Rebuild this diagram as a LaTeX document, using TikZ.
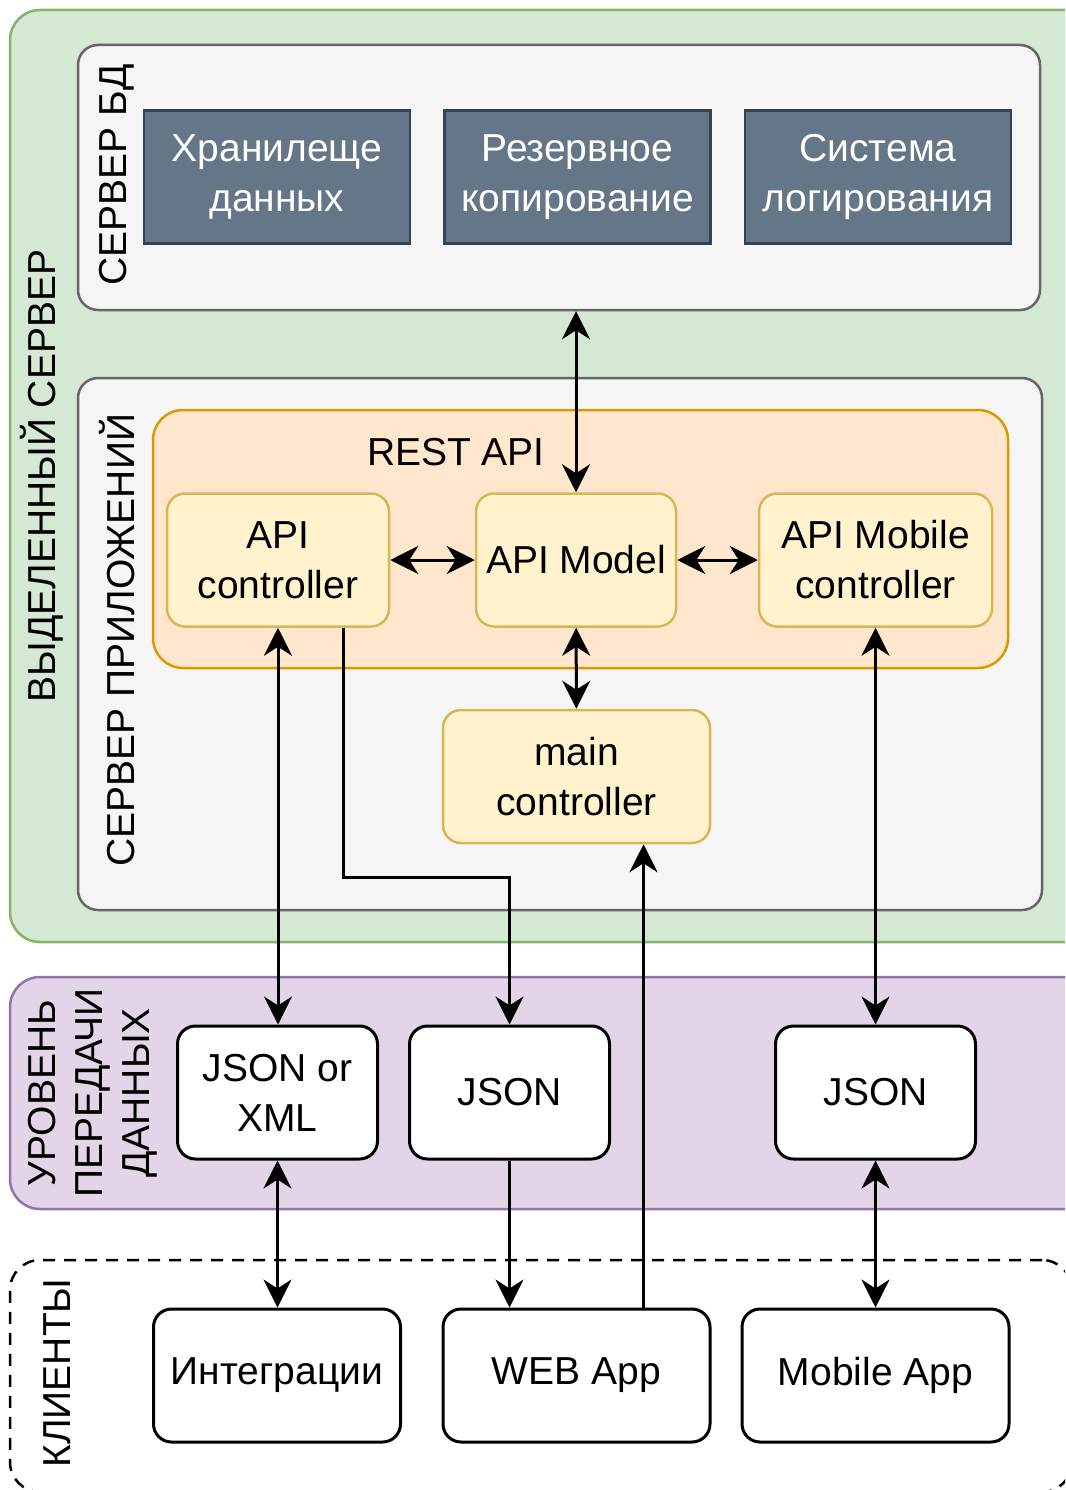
\documentclass[tikz,border=0pt]{standalone}
\usepackage{fontspec}
\setmainfont{Liberation Sans}
\usepackage{xcolor}
\usepackage{tikz}
\usetikzlibrary{arrows.meta, positioning, calc}

\definecolor{srvfill}{HTML}{D5E8D4}
\definecolor{srvline}{HTML}{82B366}
\definecolor{panelfill}{HTML}{F5F5F5}
\definecolor{panelline}{HTML}{666666}
\definecolor{dbfill}{HTML}{647687}
\definecolor{dbline}{HTML}{314354}
\definecolor{restfill}{HTML}{FFE6CC}
\definecolor{restline}{HTML}{D79B00}
\definecolor{ctrlfill}{HTML}{FFF2CC}
\definecolor{ctrlline}{HTML}{D6B656}
\definecolor{netfill}{HTML}{E1D5E7}
\definecolor{netline}{HTML}{9673A6}

\begin{document}
\begin{tikzpicture}[
    x=1pt, y=-1pt,
    font=\fontsize{39}{50}\selectfont,
    node distance=32pt,
    zone/.style={rectangle, rounded corners=30pt, line width=2.5pt, inner sep=0pt},
    panel/.style={rectangle, draw=panelline, fill=panelfill, rounded corners=20pt, line width=2.5pt, inner sep=0pt},
    dbbox/.style={rectangle, draw=dbline, fill=dbfill, text=white, line width=2.5pt, align=center, minimum width=266pt, minimum height=133pt, inner sep=0pt},
    ctrl/.style={rectangle, draw=ctrlline, fill=ctrlfill, rounded corners=18pt, line width=2.5pt, align=center, minimum height=133pt, inner sep=0pt},
    fmt/.style={rectangle, draw, fill=white, rounded corners=18pt, line width=3pt, align=center, minimum width=200pt, minimum height=133pt, inner sep=0pt},
    client/.style={fmt, minimum width=267pt},
    vlabel/.style={rotate=90, align=center, inner sep=0pt},
    arrow/.style={-{Stealth[length=28pt, width=28pt, inset=9pt]}, line width=3pt},
    darrow/.style={{Stealth[length=28pt, width=28pt, inset=9pt]}-{Stealth[length=28pt, width=28pt, inset=9pt]}, line width=3pt}
  ]

    \clip (0,0) rectangle (1065,1490);

    % зоны
    \node[zone, draw=srvline, fill=srvfill, minimum width=1085pt, minimum height=932pt] (srv) at (552.5,476) {};
    \node[panel, minimum width=962pt, minimum height=265pt] (dbsrv) at (559,177.5) {};
    \node[panel, minimum width=964pt, minimum height=532pt] (appsrv) at (560,644) {};
    \node[zone, draw=restline, fill=restfill, minimum width=855pt, minimum height=258pt] (rest) at (580.5,539) {};
    \node[zone, draw=netline, fill=netfill, minimum width=1085pt, minimum height=232pt] (net) at (552.5,1093) {};
    \node[zone, draw, dashed, dash pattern=on 12pt off 9pt, minimum width=1062pt, minimum height=232pt] (clients) at (541,1376) {};

    % подписи зон
    \node[vlabel] (srvlbl) at (42,476) {ВЫДЕЛЕННЫЙ СЕРВЕР};
    \node[vlabel] (dblbl) at (117,175) {СЕРВЕР БД};
    \node[vlabel] (applbl) at (117,640) {СЕРВЕР ПРИЛОЖЕНИЙ};
    \node[vlabel, font=\fontsize{39}{47}\selectfont] (netlbl) at (93,1093) {УРОВЕНЬ\\ПЕРЕДАЧИ\\ДАННЫХ};
    \node[vlabel] (clilbl) at (57,1373) {КЛИЕНТЫ};
    \node (restlbl) at (456,452) {REST API};

    % сервер БД
    \node[dbbox] (store) at (277,177) {Хранилеще\\данных};
    \node[dbbox, right=of store] (backup) {Резервное\\копирование};
    \node[dbbox, right=of backup] (logs) {Система\\логирования};

    % REST API
    \node[ctrl, minimum width=222pt] (apictl) at (278,560) {API\\controller};
    \node[ctrl, minimum width=200pt] (apimodel) at (576,560) {API Model};
    \node[ctrl, minimum width=233pt] (apimob) at (875.5,560) {API Mobile\\controller};
    \node[ctrl, minimum width=267pt] (mainctl) at (576.5,776.5) {main\\controller};

    % уровень передачи данных
    \node[fmt] (jsonxml) at (277.5,1092.5) {JSON or\\XML};
    \node[fmt] (json) at (509.5,1092.5) {JSON};
    \node[fmt] (jsonmob) at (875.5,1092.5) {JSON};

    % клиенты
    \node[client, minimum width=247pt] (integr) at (277,1375.5) {Интеграции};
    \node[client] (webapp) at (576.5,1375.5) {WEB App};
    \node[client] (mobapp) at (875.5,1375.5) {Mobile App};

    % связи
    \draw[darrow] (apimodel.north |- dbsrv.south) -- (apimodel.north);
    \draw[darrow] (apictl) -- (apimodel);
    \draw[darrow] (apimodel) -- (apimob);
    \draw[darrow] (apimodel) -- (mainctl);
    \draw[darrow] (apictl.south) -- (apictl.south |- jsonxml.north);
    \draw[arrow] ([xshift=65pt]apictl.south) -- ++(0,250) -| (json.north);
    \draw[darrow] (apimob) -- (jsonmob);
    \draw[darrow] (jsonxml.south) -- (jsonxml.south |- integr.north);
    \draw[arrow] (json.south) -- (json.south |- webapp.north);
    \draw[arrow] ([xshift=67pt]webapp.north) -- ([xshift=67pt]webapp.north |- mainctl.south);
    \draw[darrow] (jsonmob) -- (mobapp);

\end{tikzpicture}
\end{document}
